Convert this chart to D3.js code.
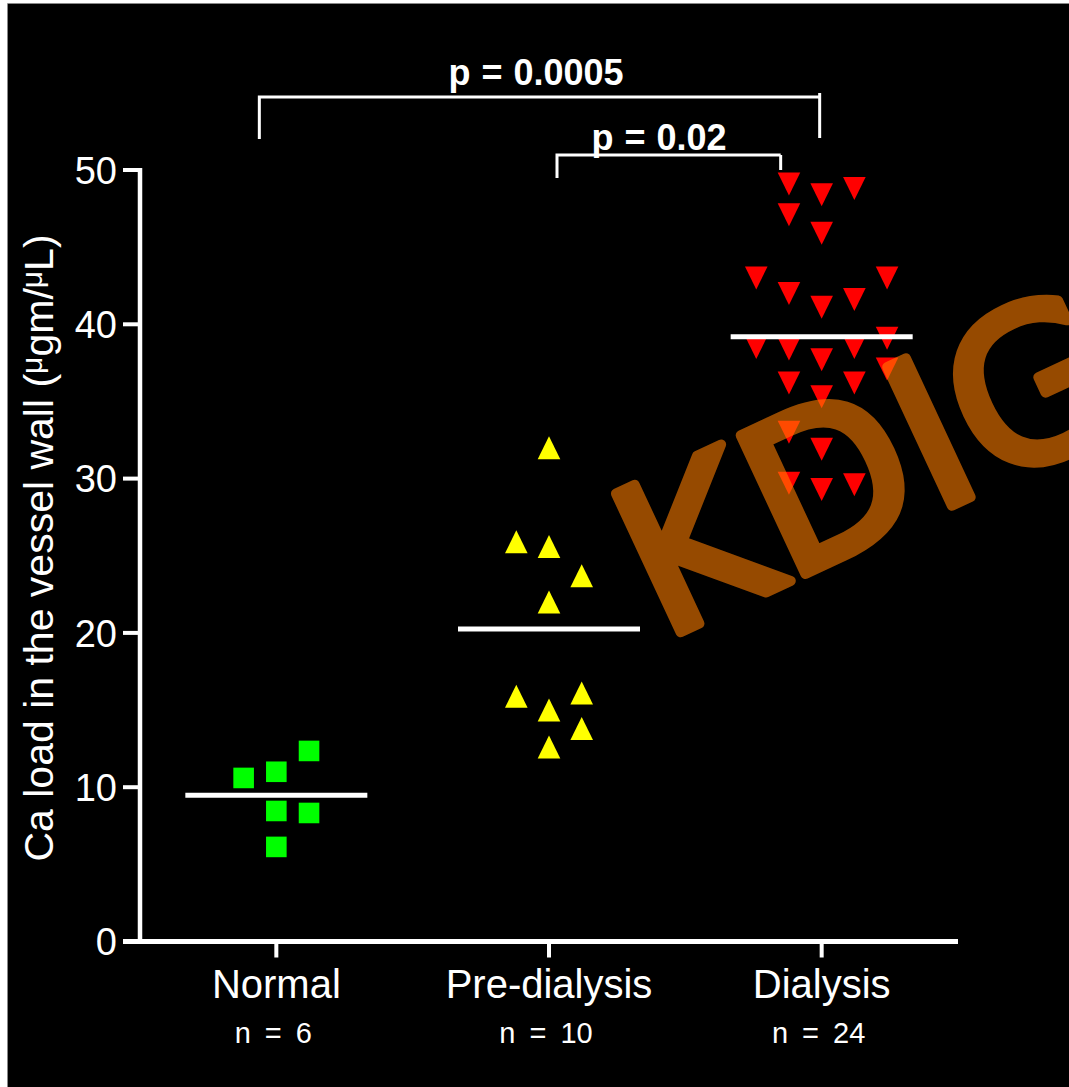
<!DOCTYPE html>
<html><head><meta charset="utf-8">
<script src="https://cdn.jsdelivr.net/npm/d3@7"></script>
<style>html,body{margin:0;padding:0;background:#000;overflow:hidden}</style>
</head><body>
<svg id="chart" width="1069" height="1087"></svg>
<script>
const categories = ["Normal", "Pre-dialysis", "Dialysis"];
const sampleLabels = ["n = 6", "n = 10", "n = 24"];
const normalValues = [10.6, 11.0, 12.35, 8.46, 8.33, 6.13];
const normalSlots  = [-1, 0, 1, 0, 1, 0];
const preValues = [32.0, 25.9, 25.6, 23.7, 22.0, 15.9, 16.1, 15.0, 13.8, 12.6];
const preSlots  = [0, -1, 0, 1, 0, -1, 1, 0, 1, 0];
const dialysisValues = [49.1, 48.4, 48.8, 47.1, 45.9, 43.0, 43.0, 42.0, 41.6, 41.1, 39.1, 38.5, 38.4, 38.5, 37.7, 37.1, 36.2, 36.2, 35.3, 33.0, 31.9, 29.7, 29.3, 29.6];
const dialysisSlots  = [-1, 0, 1, -1, 0, -2, 2, -1, 1, 0, 2, -2, -1, 1, 0, 2, -1, 1, 0, -1, 0, -1, 0, 1];
const yTicks = [0, 10, 20, 30, 40, 50];
const comparisons = [
  {from: "Normal", to: "Dialysis", label: "p = 0.0005"},
  {from: "Pre-dialysis", to: "Dialysis", label: "p = 0.02"}
];
const yLabelMain = "Ca load in the vessel wall (";
const watermark = "KDIGO";

const svg = d3.select("#chart");
const W = 1069, H = 1087;

// background + frame strips
svg.append("rect").attr("width", W).attr("height", H).attr("fill", "#000");
svg.append("rect").attr("x", 0).attr("y", 0).attr("width", 8).attr("height", H).attr("fill", "#fff");
svg.append("rect").attr("x", 0).attr("y", 0).attr("width", W).attr("height", 4).attr("fill", "#fff");
svg.append("line").attr("x1", 7.5).attr("x2", 7.5).attr("y1", 3.5).attr("y2", H).attr("stroke", "#888").attr("stroke-width", 1);
svg.append("line").attr("x1", 7.5).attr("x2", W).attr("y1", 3.5).attr("y2", 3.5).attr("stroke", "#888").attr("stroke-width", 1);

const x = d3.scalePoint().domain(categories).range([140, 958]).padding(0.5);
const y = d3.scaleLinear().domain([0, 50]).range([941.5, 170]);
const slotW = 32.7;

const groups = [
  {cat: "Normal", values: normalValues, slots: normalSlots, shape: "square", color: "#00ff00"},
  {cat: "Pre-dialysis", values: preValues, slots: preSlots, shape: "up", color: "#ffff00"},
  {cat: "Dialysis", values: dialysisValues, slots: dialysisSlots, shape: "down", color: "#ff0000"}
];

function shapePath(shape) {
  if (shape === "square") return "M-10.3,-10.3H10.3V10.3H-10.3Z";
  if (shape === "up") return "M0,-11.5L11.3,11.5L-11.3,11.5Z";
  return "M-11.3,-11.5L11.3,-11.5L0,11.5Z";
}

// axes
const font = "'Liberation Sans', Arial, sans-serif";
const yAxis = svg.append("g");
yAxis.append("line").attr("x1", 140).attr("x2", 140).attr("y1", y(50) - 2).attr("y2", y(0))
  .attr("stroke", "#fff").attr("stroke-width", 4.5);
yAxis.selectAll(".yt").data(yTicks).join("line")
  .attr("x1", 123).attr("x2", 140).attr("y1", d => y(d)).attr("y2", d => y(d))
  .attr("stroke", "#fff").attr("stroke-width", 4);
yAxis.selectAll(".yl").data(yTicks).join("text")
  .attr("x", 117).attr("y", d => y(d)).attr("dy", "0.36em")
  .attr("text-anchor", "end").attr("fill", "#fff")
  .style("font-family", font).style("font-size", "38px").text(d => d);

const xAxis = svg.append("g");
xAxis.append("line").attr("x1", 123).attr("x2", 958).attr("y1", y(0)).attr("y2", y(0))
  .attr("stroke", "#fff").attr("stroke-width", 5);
xAxis.selectAll(".xt").data(categories).join("line")
  .attr("x1", d => x(d)).attr("x2", d => x(d)).attr("y1", y(0)).attr("y2", y(0) + 16)
  .attr("stroke", "#fff").attr("stroke-width", 4);
xAxis.selectAll(".xl").data(categories).join("text")
  .attr("x", d => x(d)).attr("y", 998).attr("text-anchor", "middle").attr("fill", "#fff")
  .style("font-family", font).style("font-size", "40px").text(d => d);
xAxis.selectAll(".xn").data(sampleLabels).join("text")
  .attr("x", (d, i) => x(categories[i]) - 3).attr("y", 1043).attr("text-anchor", "middle").attr("fill", "#fff")
  .style("font-family", font).style("font-size", "29px").style("word-spacing", "6px").text(d => d);

// y label
const yl = svg.append("text")
  .attr("transform", "translate(53,548) rotate(-90)")
  .attr("text-anchor", "middle").attr("fill", "#fff")
  .style("font-family", font).style("font-size", "41px");
yl.append("tspan").text(yLabelMain);
yl.append("tspan").attr("dy", -11).style("font-size", "30px").text("\u03bc");
yl.append("tspan").attr("dy", 11).text("gm/");
yl.append("tspan").attr("dy", -11).style("font-size", "30px").text("\u03bc");
yl.append("tspan").attr("dy", 11).text("L)");

// points
groups.forEach(g => {
  const pts = g.values.map((v, i) => ({v, s: g.slots[i]}));
  svg.append("g").selectAll("path").data(pts).join("path")
    .attr("d", shapePath(g.shape))
    .attr("transform", d => `translate(${x(g.cat) + d.s * slotW},${y(d.v)})`)
    .attr("fill", g.color);
});

// mean lines
svg.append("g").selectAll("line").data(groups).join("line")
  .attr("x1", d => x(d.cat) - 91).attr("x2", d => x(d.cat) + 91)
  .attr("y1", d => y(d3.mean(d.values))).attr("y2", d => y(d3.mean(d.values)))
  .attr("stroke", "#fff").attr("stroke-width", 5);

// significance brackets
const br = [
  {c: comparisons[0], x1: x("Normal") - 17, x2: x("Dialysis") - 2, yTop: 97, yL: 139, yR: 138, yR0: 93, ty: 85, tx: 536, fs: 36},
  {c: comparisons[1], x1: x("Pre-dialysis") + 8, x2: x("Dialysis") - 41, yTop: 155, yL: 178, yR: 170, yR0: 155, ty: 150, tx: 659, fs: 36}
];
br.forEach(b => {
  const g = svg.append("g");
  g.append("path").attr("d", `M${b.x1},${b.yL}V${b.yTop}H${b.x2}`).attr("fill", "none").attr("stroke", "#fff").attr("stroke-width", 3);
  g.append("line").attr("x1", b.x2).attr("x2", b.x2).attr("y1", b.yR0).attr("y2", b.yR).attr("stroke", "#fff").attr("stroke-width", 3);
  g.append("text").attr("x", b.tx).attr("y", b.ty).attr("text-anchor", "middle").attr("fill", "#fff")
    .style("font-family", font).style("font-weight", "bold").style("font-size", b.fs + "px").style("word-spacing", "1px")
    .text(b.c.label);
});

// watermark
svg.append("g").attr("opacity", 0.59)
  .append("text").attr("transform", "translate(662,641) rotate(-25)")
  .attr("fill", "#ff7f00").attr("stroke", "#ff7f00").attr("stroke-width", 10).attr("stroke-linejoin", "round")
  .style("font-family", "'DejaVu Sans', sans-serif").style("font-size", "210px")
  .text(watermark);
</script>
</body></html>
